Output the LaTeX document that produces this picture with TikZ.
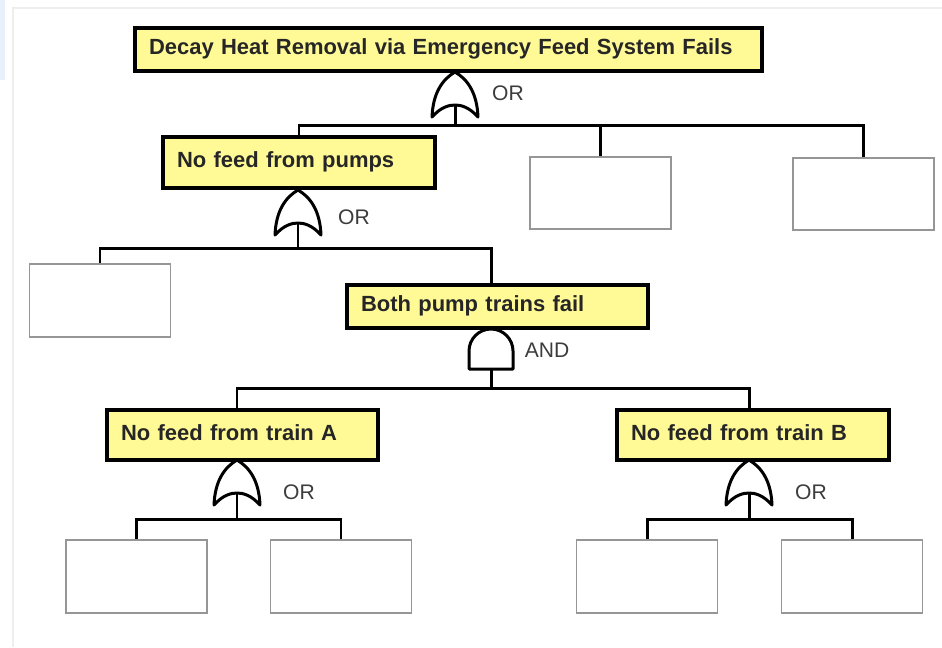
\documentclass[tikz,border=0pt]{standalone}
\usepackage{fontspec}
\setmainfont{Liberation Sans}
\usetikzlibrary{positioning}
\definecolor{eventyellow}{RGB}{255,250,150}
\definecolor{boxgray}{RGB}{150,150,150}
\definecolor{labelgray}{RGB}{60,60,60}
\definecolor{framegray}{RGB}{238,238,238}
\definecolor{edgeblue}{RGB}{232,241,251}

\begin{document}
\begin{tikzpicture}[x=0.02cm, y=-0.02cm,
    eventbox/.style 2 args={draw=black, fill=eventyellow, line width=1.8pt,
      font=\bfseries\fontsize{12.5}{14}\selectfont, text=black!85, align=left,
      inner xsep=0.28cm, inner ysep=0pt, text width=#1, minimum height=#2,
      text height=0.32cm, text depth=0.12cm},
    basicbox/.style={draw=boxgray, fill=white, line width=1.1pt,
      minimum width=2.82cm, minimum height=1.45cm, inner sep=0pt},
    wire/.style={line width=1.7pt},
    gatelabel/.style={font=\fontsize{12}{14}\selectfont, text=labelgray, inner sep=0pt},
    orgate/.pic={
      \draw[line width=1.7pt, line join=round, line cap=round]
        (0,0) .. controls (-12,7) and (-22,20) .. (-23,45)
        .. controls (-14,35) and (-6,33) .. (0,33)
        .. controls (6,33) and (14,35) .. (23,45)
        .. controls (22,20) and (12,7) .. (0,0);
      \coordinate (-out) at (0,33);
    },
    andgate/.pic={
      \draw[line width=1.7pt, line join=round]
        (-22,40) -- (-22,22) .. controls (-22,9.9) and (-12.1,0) .. (0,0)
        .. controls (12.1,0) and (22,9.9) .. (22,22) -- (22,40) -- cycle;
      \coordinate (-out) at (0,40);
    }]
  \useasboundingbox (0,0) rectangle (942,647);

  % screenshot frame
  \fill[edgeblue] (0,0) rectangle (5,80);
  \draw[framegray, line width=0.6pt] (13,647) -- (13,8) -- (942,8);

  % events
  \node[eventbox={11.98cm}{0.86cm}] (top) at (448.5,49.5) {Decay Heat Removal via Emergency Feed System Fails};
  \node[eventbox={4.88cm}{1.02cm}] (pumps) at (299,162.5) {No feed from pumps};
  \node[basicbox] (b1) at (600.5,193) {};
  \node[basicbox] (b2) at (863.5,194) {};
  \node[basicbox] (b3) at (100,300.5) {};
  \node[eventbox={5.46cm}{0.86cm}] (trains) at (497.5,306.5) {Both pump trains fail};
  \node[eventbox={4.86cm}{1cm}] (trainA) at (242.5,435) {No feed from train A};
  \node[eventbox={4.88cm}{1cm}] (trainB) at (753,435) {No feed from train B};
  \node[basicbox] (b4) at (136.5,576.5) {};
  \node[basicbox] (b5) at (341,576.5) {};
  \node[basicbox] (b6) at (647,576.5) {};
  \node[basicbox] (b7) at (852,576.5) {};

  % gates
  \pic (g1) at (455,72) {orgate};
  \pic (g2) at (298,190) {orgate};
  \pic (g3) at (491,329) {andgate};
  \pic (g4) at (237,460) {orgate};
  \pic (g5) at (749,460) {orgate};

  \node[gatelabel] (l1) at (508,93) {OR};
  \node[gatelabel] (l2) at (354,217) {OR};
  \node[gatelabel] (l3) at (547,350) {AND};
  \node[gatelabel] (l4) at (299,492) {OR};
  \node[gatelabel] (l5) at (811,492) {OR};

  % connectors
  \coordinate (j1) at (455,125);
  \coordinate (j2) at (298,248);
  \coordinate (j3) at (491,388);
  \coordinate (j4) at (237,519);
  \coordinate (j5) at (749,519);

  \draw[wire] (g1-out) -- (j1);
  \draw[wire] (pumps.north) |- (j1) -| (b2.north);
  \draw[wire] (b1.north) -- (b1.north |- j1);
  \draw[wire] (g2-out) -- (j2);
  \draw[wire] (b3.north) |- (j2) -| (trains.north -| g3-out);
  \draw[wire] (g3-out) -- (j3);
  \draw[wire] (trainA.north -| g4-out) |- (j3) -| (trainB.north -| g5-out);
  \draw[wire] (g4-out) -- (j4);
  \draw[wire] (b4.north) |- (j4) -| (b5.north);
  \draw[wire] (g5-out) -- (j5);
  \draw[wire] (b6.north) |- (j5) -| (b7.north);
\end{tikzpicture}
\end{document}
